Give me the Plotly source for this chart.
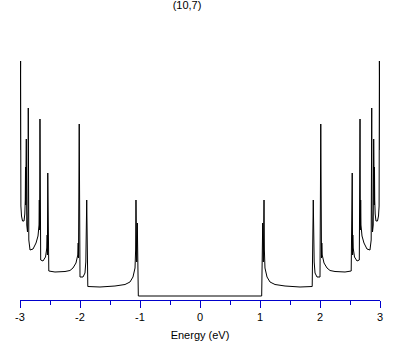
import plotly.graph_objects as go

# Density of states of a (10,7) nanotube (negative-energy half;
# the curve is mirror-symmetric about E = 0).  DOS in arbitrary units.
energy_left = [-3.000, -2.990, -2.985, -2.975, -2.958, -2.933, -2.920, -2.912, -2.908, -2.905,
               -2.895, -2.887, -2.875, -2.867, -2.862, -2.853, -2.833, -2.783, -2.733, -2.700,
               -2.683, -2.678, -2.673, -2.667, -2.655, -2.617, -2.575, -2.553, -2.547, -2.543,
               -2.537, -2.520, -2.417, -2.250, -2.167, -2.117, -2.067, -2.037, -2.030, -2.025,
               -2.013, -2.000, -1.950, -1.917, -1.903, -1.888, -1.870, -1.667, -1.417, -1.250,
               -1.167, -1.117, -1.083, -1.073, -1.067, -1.055, -1.045, -1.028, -1.020, 0.000]
dos_left = [150, 239, 94, 84, 79, 79, 86, 100, 133, 95,
            161, 75, 68, 90, 192, 60, 50, 51, 57, 64,
            75, 100, 70, 181, 40, 39, 43, 52, 65, 45,
            127, 29, 28, 28.5, 29.5, 32, 37, 45, 57, 42,
            176, 23, 23, 27, 38, 100, 13.5, 13, 14, 15.5,
            18, 23, 32, 50, 100, 38, 77, 4, 4, 4]

tick_vals = [-3, -2, -1, 0, 1, 2, 3]
tick_labels = ["-3", "-2", "-1", "0", "1", "2", "3"]

energy = energy_left + [-e for e in reversed(energy_left[:-1])]
dos = dos_left + list(reversed(dos_left[:-1]))

blue = "#0000cc"
font_family = "Liberation Sans, DejaVu Sans, sans-serif"

fig = go.Figure()
fig.add_trace(go.Scatter(x=energy, y=dos, mode="lines",
                         line=dict(color="black", width=1, simplify=False),
                         hoverinfo="skip", showlegend=False))

fig.update_layout(
    width=409, height=345,
    margin=dict(l=20, r=29, t=40, b=45, autoexpand=False),
    paper_bgcolor="white", plot_bgcolor="white",
    font=dict(family=font_family, size=11, color="black"),
    title=dict(text="(10,7)", x=187/409, xref="container", xanchor="center",
               y=1 - 5/345, yref="container", yanchor="middle",
               font=dict(family=font_family, size=11, color="black")),
    xaxis=dict(range=[-3, 3], showgrid=False, zeroline=False, automargin=False,
               showline=True, linecolor=blue, linewidth=1,
               ticks="outside", ticklen=7, tickwidth=1, tickcolor=blue,
               tickvals=tick_vals, ticktext=tick_labels,
               tickfont=dict(size=11, color="black"),
               minor=dict(dtick=0.5, tick0=0, ticks="outside", ticklen=4,
                          tickwidth=1, tickcolor=blue, showgrid=False),
               title=dict(text="Energy (eV)", standoff=9,
                          font=dict(size=11, color="black"))),
    yaxis=dict(range=[0, 260], visible=False, showgrid=False, zeroline=False,
               automargin=False),
)

fig.write_html("out.html", config={"displayModeBar": False},
               post_script="document.body.style.margin='0';document.body.style.padding='0';")
